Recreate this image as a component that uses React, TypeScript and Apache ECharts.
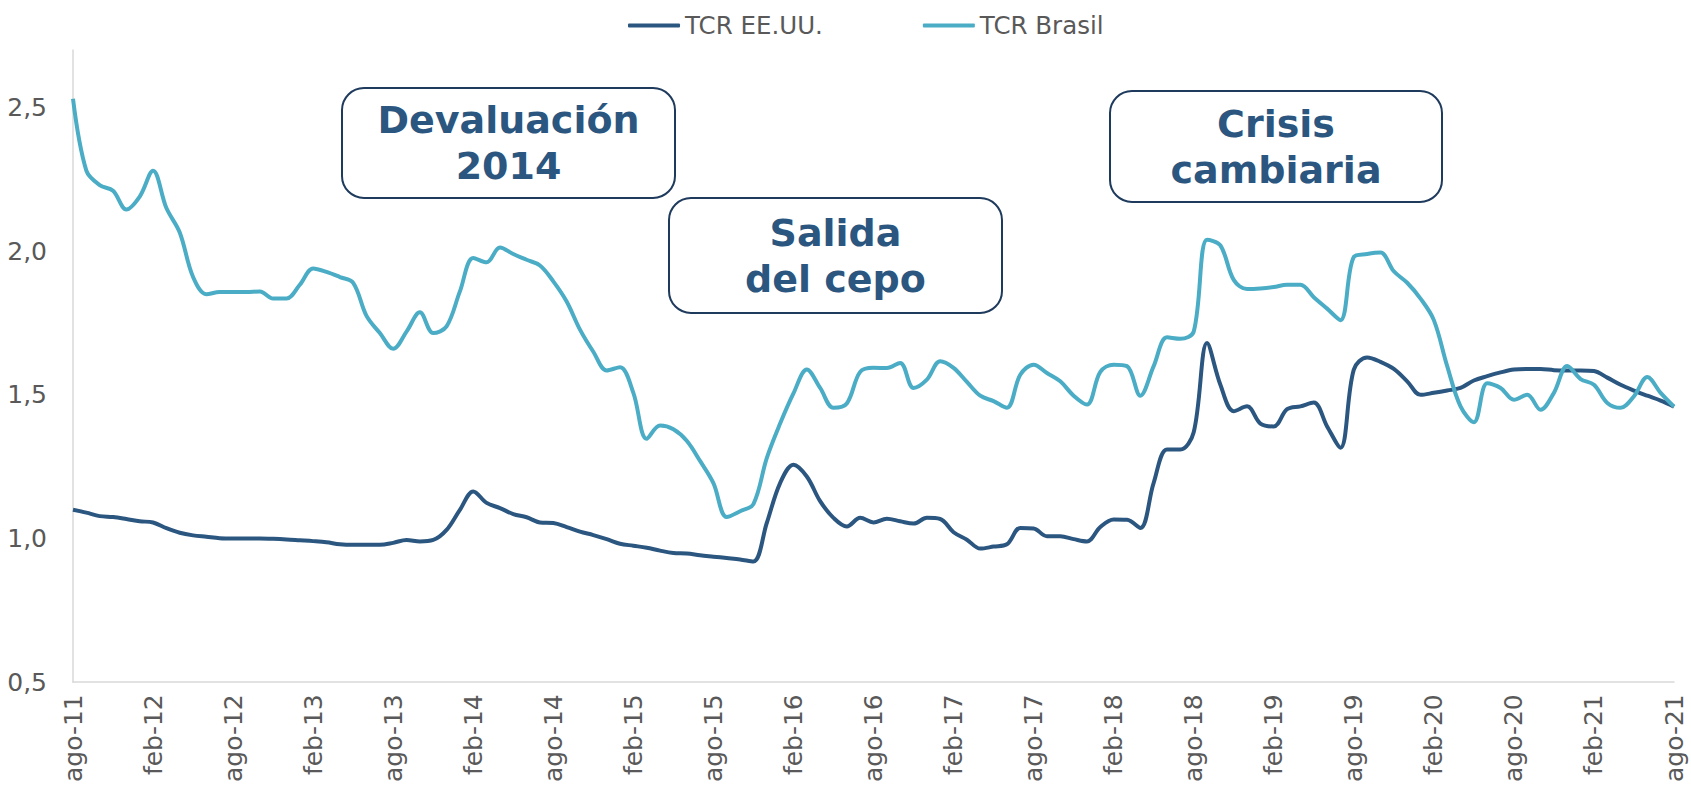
import React, { useEffect, useRef } from "react";
import * as echarts from "echarts";

const monthNames = ["ene", "feb", "mar", "abr", "may", "jun", "jul", "ago", "sep", "oct", "nov", "dic"];
const startYear = 2011;
const startMonth = 7; // ago
const nMonths = 121;

const categories: string[] = [];
for (let k = 0; k < nMonths; k++) {
  const m = (startMonth + k) % 12;
  const y = startYear + Math.floor((startMonth + k) / 12);
  categories.push(monthNames[m] + "-" + String(y).slice(2));
}

const tcrEEUU = [
  1.10, 1.09, 1.078, 1.075, 1.068, 1.06, 1.056, 1.036, 1.02, 1.011,
  1.006, 1.001, 1.0, 1.0, 1.0, 0.999, 0.997, 0.994, 0.991, 0.987,
  0.98, 0.978, 0.978, 0.978, 0.985, 0.995, 0.99, 0.995, 1.03, 1.10,
  1.164, 1.124, 1.106, 1.085, 1.074, 1.056, 1.054, 1.04, 1.024, 1.012,
  0.998, 0.982, 0.975, 0.968, 0.958, 0.95, 0.948, 0.942, 0.937, 0.932,
  0.927, 0.92, 1.054, 1.193, 1.257, 1.216, 1.13, 1.072, 1.042, 1.072,
  1.056, 1.069, 1.06, 1.052, 1.072, 1.068, 1.022, 0.996, 0.965, 0.972,
  0.98, 1.037, 1.035, 1.008, 1.008, 0.998, 0.99, 1.04, 1.066, 1.065,
  1.037, 1.194, 1.31, 1.31, 1.37, 1.68, 1.535, 1.443, 1.46, 1.40,
  1.39, 1.45, 1.46, 1.473, 1.39, 1.316, 1.588, 1.63, 1.615, 1.59,
  1.547, 1.50, 1.507, 1.515, 1.524, 1.55, 1.565, 1.578, 1.588, 1.59,
  1.59, 1.586, 1.585, 1.585, 1.583, 1.56, 1.535, 1.515, 1.497, 1.48,
  1.459,
];

const tcrBrasil = [
  2.53, 2.28, 2.23, 2.21, 2.145, 2.19, 2.28, 2.15, 2.065, 1.91,
  1.85, 1.858, 1.858, 1.858, 1.86, 1.835, 1.835, 1.883, 1.94, 1.928,
  1.91, 1.89, 1.775, 1.715, 1.66, 1.72, 1.787, 1.715, 1.738, 1.86,
  1.976, 1.961, 2.013, 1.99, 1.97, 1.95, 1.895, 1.825, 1.727, 1.65,
  1.585, 1.596, 1.507, 1.347, 1.393, 1.38, 1.34, 1.27, 1.193, 1.075,
  1.095, 1.12, 1.28, 1.40, 1.505, 1.588, 1.524, 1.455, 1.47, 1.58,
  1.594, 1.593, 1.611, 1.524, 1.553, 1.617, 1.594, 1.545, 1.497, 1.478,
  1.455, 1.57, 1.605, 1.576, 1.547, 1.497, 1.466, 1.58, 1.605, 1.60,
  1.497, 1.60, 1.70, 1.695, 1.72, 2.04, 2.02, 1.90, 1.868, 1.87,
  1.875, 1.883, 1.883, 1.84, 1.80, 1.76, 1.98, 1.99, 1.995, 1.93,
  1.89, 1.835, 1.76, 1.60, 1.46, 1.405, 1.54, 1.524, 1.483, 1.50,
  1.448, 1.507, 1.60, 1.555, 1.535, 1.472, 1.455, 1.495, 1.562, 1.507,
  1.459,
];

const seriesNames = ["TCR EE.UU.", "TCR Brasil"];
const annotations = ["Devaluación\n2014", "Salida\ndel cepo", "Crisis\ncambiaria"];

const FONT = "Verdana, 'DejaVu Sans', sans-serif";
const GREY = "#595959";
const DARK = "#2B5680";
const LIGHT = "#4BACC6";
const BOX_BORDER = "#1E3A5C";
const BOX_TEXT = "#2B5680";

function box(x: number, y: number, w: number, h: number, text: string) {
  return {
    type: "group",
    x,
    y,
    children: [
      {
        type: "rect",
        shape: { x: 0, y: 0, width: w, height: h, r: 22 },
        style: { fill: "#ffffff", stroke: BOX_BORDER, lineWidth: 2 },
      },
      {
        type: "text",
        x: w / 2,
        y: h / 2,
        style: {
          text,
          fill: BOX_TEXT,
          font: `bold 38px ${FONT}`,
          textAlign: "center",
          textVerticalAlign: "middle",
          lineHeight: 46,
        },
      },
    ],
  };
}

export default function App() {
  const ref = useRef<HTMLDivElement>(null);
  useEffect(() => {
    if (!ref.current) return;
    const chart = echarts.init(ref.current, null, { renderer: "svg" });
    chart.setOption({
      animation: false,
      backgroundColor: "#ffffff",
      textStyle: { fontFamily: FONT },
      legend: {
        top: 8,
        left: 623,
        icon: "roundRect",
        itemWidth: 52,
        itemHeight: 4,
        itemGap: 100,
        textStyle: { color: GREY, fontSize: 24.5, fontFamily: FONT },
        data: seriesNames,
      },
      grid: { left: 73, right: 17, top: 50, bottom: 102 },
      xAxis: {
        type: "category",
        data: categories,
        boundaryGap: false,
        axisLine: { show: true, lineStyle: { color: "#D9D9D9", width: 1.5 } },
        axisTick: { show: false },
        axisLabel: {
          interval: 5,
          rotate: 90,
          color: GREY,
          fontSize: 25,
          fontFamily: FONT,
          margin: 12,
        },
        splitLine: { show: false },
      },
      yAxis: {
        type: "value",
        min: 0.5,
        max: 2.7,
        interval: 0.5,
        axisLine: { show: true, lineStyle: { color: "#D9D9D9", width: 1.5 } },
        axisTick: { show: false },
        splitLine: { show: false },
        axisLabel: {
          color: GREY,
          fontSize: 25,
          fontFamily: FONT,
          margin: 26,
          formatter: (v: number) =>
            Math.abs(v * 2 - Math.round(v * 2)) < 1e-6 ? v.toFixed(1).replace(".", ",") : "",
        },
      },
      series: [
        {
          name: seriesNames[0],
          type: "line",
          data: tcrEEUU,
          smooth: 0.35,
          symbol: "none",
          lineStyle: { color: DARK, width: 4 },
          itemStyle: { color: DARK },
        },
        {
          name: seriesNames[1],
          type: "line",
          data: tcrBrasil,
          smooth: 0.35,
          symbol: "none",
          lineStyle: { color: LIGHT, width: 4 },
          itemStyle: { color: LIGHT },
        },
      ],
      graphic: [
        box(342, 88, 333, 110, annotations[0]),
        box(669, 198, 333, 115, annotations[1]),
        box(1110, 91, 332, 111, annotations[2]),
      ],
    });
    return () => chart.dispose();
  }, []);
  return (
    <div
      ref={ref}
      style={{ position: "fixed", left: 0, top: 0, width: 1691, height: 785, background: "#fff" }}
    />
  );
}
